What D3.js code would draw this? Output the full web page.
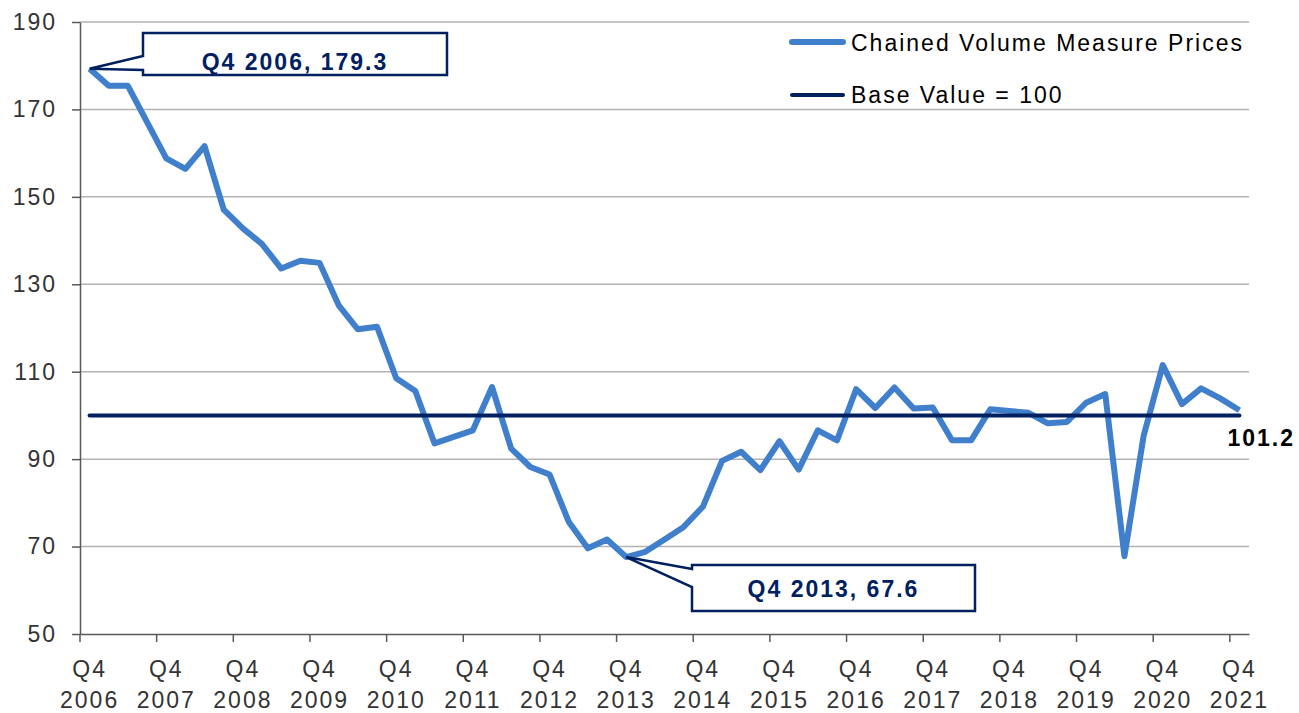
<!DOCTYPE html>
<html>
<head>
<meta charset="utf-8">
<script src="https://cdn.jsdelivr.net/npm/d3@7"></script>
<style>
  body { margin: 0; background: #fff; }
  svg text { font-family: 'Liberation Sans', Arial, sans-serif; letter-spacing: 2px; }
</style>
</head>
<body>
<div id="chart"></div>
<script>
// quarterly categories, Q4 2006 .. Q4 2021
const quarters = [
  'Q4 2006',
  'Q1 2007', 'Q2 2007', 'Q3 2007', 'Q4 2007',
  'Q1 2008', 'Q2 2008', 'Q3 2008', 'Q4 2008',
  'Q1 2009', 'Q2 2009', 'Q3 2009', 'Q4 2009',
  'Q1 2010', 'Q2 2010', 'Q3 2010', 'Q4 2010',
  'Q1 2011', 'Q2 2011', 'Q3 2011', 'Q4 2011',
  'Q1 2012', 'Q2 2012', 'Q3 2012', 'Q4 2012',
  'Q1 2013', 'Q2 2013', 'Q3 2013', 'Q4 2013',
  'Q1 2014', 'Q2 2014', 'Q3 2014', 'Q4 2014',
  'Q1 2015', 'Q2 2015', 'Q3 2015', 'Q4 2015',
  'Q1 2016', 'Q2 2016', 'Q3 2016', 'Q4 2016',
  'Q1 2017', 'Q2 2017', 'Q3 2017', 'Q4 2017',
  'Q1 2018', 'Q2 2018', 'Q3 2018', 'Q4 2018',
  'Q1 2019', 'Q2 2019', 'Q3 2019', 'Q4 2019',
  'Q1 2020', 'Q2 2020', 'Q3 2020', 'Q4 2020',
  'Q1 2021', 'Q2 2021', 'Q3 2021', 'Q4 2021'
];

const cvmPrices = [
  179.3,
  175.4, 175.4, 167.1, 158.8,
  156.4, 161.6, 147.1, 142.8,
  139.2, 133.6, 135.4, 134.9,
  125.2, 119.7, 120.3, 108.5,
  105.6, 93.6, 95.1, 96.6,
  106.5, 92.4, 88.2, 86.5,
  75.7, 69.6, 71.6, 67.6,
  68.8, 71.6, 74.5, 79.1,
  89.6, 91.7, 87.5, 94.1,
  87.6, 96.6, 94.3, 106.0,
  101.7, 106.4, 101.6, 101.8,
  94.3, 94.3, 101.4, 101.0,
  100.6, 98.2, 98.5, 102.9,
  104.9, 67.8, 95.3, 111.5,
  102.6, 106.2, 103.9, 101.2
];

const baseValue = 100;
const yTicks = [50, 70, 90, 110, 130, 150, 170, 190];
const seriesNames = ['Chained Volume Measure Prices', 'Base Value = 100'];

const width = 1299;
const height = 713;
const navy = '#002060';
const blue = '#3F7FCB';

const svg = d3.select('#chart')
  .append('svg')
  .attr('width', width)
  .attr('height', height)

const x = d3.scaleBand()
  .domain(quarters)
  .range([80, 1249])
const bw = x.bandwidth();
const cx = (q) => x(q) + bw / 2;

const y = d3.scaleLinear()
  .domain([50, 190])
  .range([634, 22])

// gridlines
svg.append('g')
   .selectAll('line')
   .data(yTicks.filter(v => v > 50))
   .enter()
   .append('line')
   .attr('x1', 80)
   .attr('x2', 1249)
   .attr('y1', d => y(d))
   .attr('y2', d => y(d))
   .style('stroke', '#b3b3b3')
   .style('stroke-width', 1.5)

// y axis
const yAxis = d3.axisLeft(y).tickValues(yTicks).tickSize(8).tickSizeOuter(0).tickPadding(15);
const gy = svg.append('g')
   .attr('transform', 'translate(80,0)')
   .call(yAxis)
gy.select('.domain').style('stroke', '#595959').style('stroke-width', 1.5)
gy.selectAll('.tick line').style('stroke', '#595959').style('stroke-width', 1.5)
gy.selectAll('.tick text')
  .style('font-size', '23px')
  .style('fill', '#333')
  .style('font-family', "'Liberation Sans', Arial, sans-serif")

// x axis, ticks between categories, labels on Q4 of each year
const q4s = quarters.filter(q => q.startsWith('Q4'));
const xAxis = d3.axisBottom(x).tickValues(q4s).tickSize(8).tickSizeOuter(0).tickFormat('');
const gx = svg.append('g')
   .attr('transform', 'translate(0,634)')
   .call(xAxis)
gx.select('.domain').style('stroke', '#595959').style('stroke-width', 1.5)
gx.selectAll('.tick line')
  .attr('x1', -bw / 2)
  .attr('x2', -bw / 2)
  .style('stroke', '#595959')
  .style('stroke-width', 1.5)
gx.selectAll('.tick text').remove()
gx.selectAll('.tick').each(function(d) {
  const parts = d.split(' ');
  const g = d3.select(this);
  g.append('text')
   .attr('y', 43)
   .attr('text-anchor', 'middle')
   .style('font-size', '23px')
   .style('fill', '#333')
   .text(parts[0])
  g.append('text')
   .attr('y', 74)
   .attr('text-anchor', 'middle')
   .style('font-size', '23px')
   .style('fill', '#333')
   .text(parts[1])
})

// main series
const line = d3.line()
  .x((d, i) => cx(quarters[i]))
  .y(d => y(d))

svg.append('path')
   .datum(cvmPrices)
   .attr('d', line)
   .style('fill', 'none')
   .style('stroke', blue)
   .style('stroke-width', 6)
   .style('stroke-linejoin', 'round')

// base line
svg.append('line')
   .attr('x1', cx(quarters[0]))
   .attr('x2', cx(quarters[quarters.length - 1]))
   .attr('y1', y(baseValue))
   .attr('y2', y(baseValue))
   .style('stroke', navy)
   .style('stroke-width', 4)
   .style('stroke-linecap', 'round')

// last value label
const lastIdx = cvmPrices.length - 1;
svg.append('text')
   .attr('x', cx(quarters[lastIdx]) - 12)
   .attr('y', y(cvmPrices[lastIdx]) + 36)
   .style('font-size', '23px')
   .style('font-weight', 'bold')
   .style('fill', '#000')
   .text(cvmPrices[lastIdx].toFixed(1))

// callouts
const callout = (idx, box, baseline) => {
  const px = cx(quarters[idx]);
  const py = y(cvmPrices[idx]);
  const p = d3.path();
  p.moveTo(box.x0, box.y0);
  p.lineTo(box.x1, box.y0);
  p.lineTo(box.x1, box.y1);
  p.lineTo(box.x0, box.y1);
  p.lineTo(box.x0, box.w2);
  p.lineTo(px, py);
  p.lineTo(box.x0, box.w1);
  p.closePath();
  svg.append('path')
     .attr('d', p.toString())
     .style('fill', '#fff')
     .style('stroke', navy)
     .style('stroke-width', 2.5)
     .style('stroke-linejoin', 'miter')
  svg.append('text')
     .attr('x', (box.x0 + box.x1) / 2)
     .attr('y', baseline)
     .attr('text-anchor', 'middle')
     .style('font-size', '23px')
     .style('font-weight', 'bold')
     .style('fill', navy)
     .text(quarters[idx] + ', ' + cvmPrices[idx].toFixed(1))
}

callout(0, {x0: 143, y0: 33, x1: 447, y1: 75, w1: 56, w2: 70}, 70)
callout(28, {x0: 692, y0: 565, x1: 975, y1: 611, w1: 569, w2: 587}, 597)

// legend
const legend = svg.append('g')
legend.append('line')
   .attr('x1', 792).attr('x2', 843)
   .attr('y1', 42).attr('y2', 42)
   .style('stroke', blue)
   .style('stroke-width', 6)
   .style('stroke-linecap', 'round')
legend.append('text')
   .attr('x', 851).attr('y', 51)
   .style('font-size', '23px')
   .style('fill', '#000')
   .text(seriesNames[0])
legend.append('line')
   .attr('x1', 792).attr('x2', 843)
   .attr('y1', 95).attr('y2', 95)
   .style('stroke', navy)
   .style('stroke-width', 4)
   .style('stroke-linecap', 'round')
legend.append('text')
   .attr('x', 851).attr('y', 103)
   .style('font-size', '23px')
   .style('fill', '#000')
   .text(seriesNames[1])
</script>
</body>
</html>
